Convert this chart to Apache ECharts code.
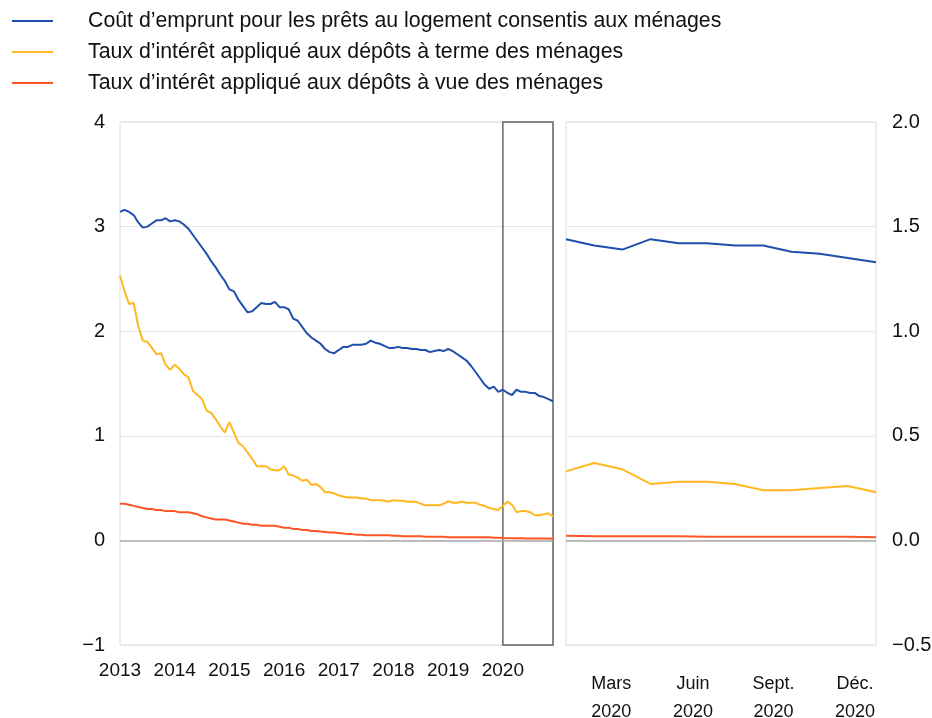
<!DOCTYPE html>
<html>
<head>
<meta charset="utf-8">
<script src="https://cdn.jsdelivr.net/npm/echarts@6/dist/echarts.min.js"></script>
<style>
  html, body { margin: 0; padding: 0; background: #fff; }
  #chart { width: 932px; height: 718px; }
</style>
</head>
<body>
<div id="chart"></div>
<script>
// data
var years = ['2013', '2014', '2015', '2016', '2017', '2018', '2019', '2020'];
var zoomMonths = ['Janv.', 'Févr.', 'Mars', 'Avr.', 'Mai', 'Juin', 'Juil.', 'Août', 'Sept.', 'Oct.', 'Nov.', 'Déc.'];
var zoomYear = '2020';

var seriesNames = [
    'Coût d’emprunt pour les prêts au logement consentis aux ménages',
    'Taux d’intérêt appliqué aux dépôts à terme des ménages',
    'Taux d’intérêt appliqué aux dépôts à vue des ménages'
];

var borrowCost = [
    3.14, 3.16, 3.14, 3.11, 3.04, 2.99, 3.00, 3.03, 3.06, 3.06, 3.08, 3.05,
    3.06, 3.05, 3.02, 2.98, 2.92, 2.86, 2.80, 2.74, 2.67, 2.61, 2.54, 2.48,
    2.40, 2.38, 2.30, 2.24, 2.18, 2.19, 2.23, 2.27, 2.26, 2.26, 2.28, 2.23,
    2.23, 2.21, 2.12, 2.10, 2.04, 1.98, 1.94, 1.91, 1.88, 1.83, 1.80, 1.79,
    1.82, 1.85, 1.85, 1.87, 1.87, 1.87, 1.88, 1.91, 1.89, 1.88, 1.86, 1.84,
    1.84, 1.85, 1.84, 1.84, 1.83, 1.83, 1.82, 1.82, 1.80, 1.81, 1.82, 1.81,
    1.83, 1.81, 1.78, 1.75, 1.72, 1.67, 1.61, 1.55, 1.49, 1.45, 1.47, 1.42,
    1.44, 1.41, 1.39, 1.44, 1.42, 1.42, 1.41, 1.41, 1.38, 1.37, 1.35, 1.33
];
var termDeposit = [
    2.53, 2.38, 2.26, 2.27, 2.05, 1.91, 1.90, 1.84, 1.78, 1.79, 1.68, 1.63,
    1.68, 1.64, 1.59, 1.56, 1.43, 1.39, 1.35, 1.24, 1.22, 1.16, 1.09, 1.03,
    1.13, 1.03, 0.93, 0.90, 0.84, 0.78, 0.71, 0.71, 0.71, 0.68, 0.67, 0.67,
    0.71, 0.63, 0.62, 0.60, 0.57, 0.58, 0.53, 0.54, 0.51, 0.46, 0.46, 0.45,
    0.43, 0.42, 0.41, 0.41, 0.41, 0.40, 0.40, 0.385, 0.385, 0.385, 0.38, 0.37,
    0.385, 0.38, 0.38, 0.37, 0.37, 0.37, 0.35, 0.335, 0.335, 0.335, 0.335, 0.35,
    0.375, 0.36, 0.36, 0.37, 0.36, 0.36, 0.36, 0.34, 0.33, 0.31, 0.30, 0.29,
    0.33, 0.37, 0.34, 0.27, 0.28, 0.28, 0.27, 0.24, 0.24, 0.25, 0.26, 0.23
];
var overnightDeposit = [
    0.35, 0.35, 0.34, 0.33, 0.32, 0.31, 0.30, 0.30, 0.29, 0.29, 0.28, 0.28,
    0.28, 0.27, 0.27, 0.27, 0.26, 0.25, 0.23, 0.22, 0.21, 0.20, 0.20, 0.20,
    0.19, 0.18, 0.17, 0.16, 0.16, 0.15, 0.15, 0.14, 0.14, 0.14, 0.14, 0.13,
    0.12, 0.12, 0.11, 0.11, 0.10, 0.10, 0.09, 0.09, 0.085, 0.08, 0.075, 0.075,
    0.07, 0.065, 0.06, 0.06, 0.055, 0.055, 0.05, 0.05, 0.05, 0.05, 0.05, 0.05,
    0.045, 0.045, 0.04, 0.04, 0.04, 0.04, 0.04, 0.035, 0.035, 0.035, 0.035, 0.035,
    0.03, 0.03, 0.03, 0.03, 0.03, 0.03, 0.03, 0.03, 0.03, 0.03, 0.025, 0.025,
    0.022, 0.02, 0.02, 0.02, 0.02, 0.018, 0.018, 0.018, 0.018, 0.018, 0.017, 0.015
];

var colors = ['#1e4fad', '#ffb820', '#ff5526'];
var FONT = "'Liberation Sans', Arial, sans-serif";

// monthly categories for the long panel
var months = [];
years.forEach(function(y) {
    for (var m = 1; m <= 12; m++) {
        months.push(y + '-' + (m < 10 ? '0' + m : m));
    }
});

function minus(v) {
    return String(v).replace('-', '−');
}

var allData = [borrowCost, termDeposit, overnightDeposit];
var series = [];
allData.forEach(function(d, k) {
    var left = {
        name: seriesNames[k],
        type: 'line',
        xAxisIndex: 0,
        yAxisIndex: 0,
        symbol: 'none',
        z: 3 + k,
        lineStyle: { color: colors[k], width: 2 },
        itemStyle: { color: colors[k] },
        data: d
    };
    var right = {
        name: seriesNames[k],
        type: 'line',
        xAxisIndex: 1,
        yAxisIndex: 1,
        symbol: 'none',
        z: 3 + k,
        lineStyle: { color: colors[k], width: 2 },
        itemStyle: { color: colors[k] },
        data: d.slice(-12)
    };
    if (k === 0) {
        left.markLine = {
            silent: true, symbol: 'none', label: { show: false },
            lineStyle: { color: '#aaaaaa', width: 1.5, type: 'solid' },
            data: [{ yAxis: 0 }]
        };
        left.markArea = {
            silent: true,
            itemStyle: { color: 'rgba(0,0,0,0)', borderColor: '#666', borderWidth: 1.5 },
            data: [[{ xAxis: zoomYear + '-01', yAxis: -1 }, { xAxis: zoomYear + '-12', yAxis: 4 }]]
        };
        right.markLine = {
            silent: true, symbol: 'none', label: { show: false },
            lineStyle: { color: '#aaaaaa', width: 1.5, type: 'solid' },
            data: [{ yAxis: 0 }]
        };
    }
    series.push(left, right);
});

// shift of the month labels in the zoom panel
var zoomRich = {};
[[2, 22], [5, 28], [8, 36], [11, 42]].forEach(function(p) {
    zoomRich['s' + p[0]] = { fontSize: 18, lineHeight: 28, color: '#111', fontFamily: FONT, padding: [0, p[1], 0, 0] };
});

var chart = echarts.init(document.getElementById('chart'));
var option = {
    animation: false,
    textStyle: { fontFamily: FONT },
    legend: {
        orient: 'vertical',
        left: 7,
        top: 5,
        itemWidth: 41,
        itemHeight: 2,
        itemGap: 9,
        selectedMode: false,
        textStyle: { fontSize: 21.3, color: '#111', lineHeight: 22, padding: [0, 0, 0, 30], fontFamily: FONT },
        data: seriesNames.map(function(n, k) {
            return { name: n, icon: 'rect', itemStyle: { color: colors[k] } };
        })
    },
    grid: [
        { left: 120, top: 122, width: 433, height: 523, show: true, borderColor: '#dddddd', borderWidth: 1, outerBoundsMode: 'none' },
        { left: 566, top: 122, width: 310, height: 523, show: true, borderColor: '#dddddd', borderWidth: 1, outerBoundsMode: 'none' }
    ],
    xAxis: [{
        type: 'category',
        gridIndex: 0,
        boundaryGap: false,
        data: months,
        axisLine: { show: false, onZero: false },
        axisTick: { show: false },
        splitLine: { show: false },
        axisLabel: {
            interval: function(i) { return i % 12 === 0; },
            formatter: function(v) { return v.slice(0, 4); },
            fontSize: 19, color: '#111', margin: 16, fontFamily: FONT
        }
    }, {
        type: 'category',
        gridIndex: 1,
        boundaryGap: false,
        data: zoomMonths,
        axisLine: { show: false, onZero: false },
        axisTick: { show: false },
        splitLine: { show: false },
        axisLabel: {
            interval: function(i) { return i % 3 === 2; },
            showMaxLabel: true,
            formatter: function(v, i) { return '{s' + i + '|' + v + '}\n{s' + i + '|' + zoomYear + '}'; },
            rich: zoomRich,
            fontSize: 18, color: '#111', margin: 25, fontFamily: FONT
        }
    }],
    yAxis: [{
        type: 'value',
        gridIndex: 0,
        min: -1, max: 4, interval: 1,
        axisLine: { show: false },
        axisTick: { show: false },
        splitLine: { lineStyle: { color: '#e6e6e6', width: 1 } },
        axisLabel: { fontSize: 20, color: '#111', margin: 15, fontFamily: FONT, formatter: minus }
    }, {
        type: 'value',
        gridIndex: 1,
        position: 'right',
        min: -0.5, max: 2, interval: 0.5,
        axisLine: { show: false },
        axisTick: { show: false },
        splitLine: { lineStyle: { color: '#e6e6e6', width: 1 } },
        axisLabel: {
            fontSize: 20, color: '#111', margin: 16, fontFamily: FONT,
            formatter: function(v) { return minus(v.toFixed(1)); }
        }
    }],
    series: series
};
chart.setOption(option);
</script>
</body>
</html>
